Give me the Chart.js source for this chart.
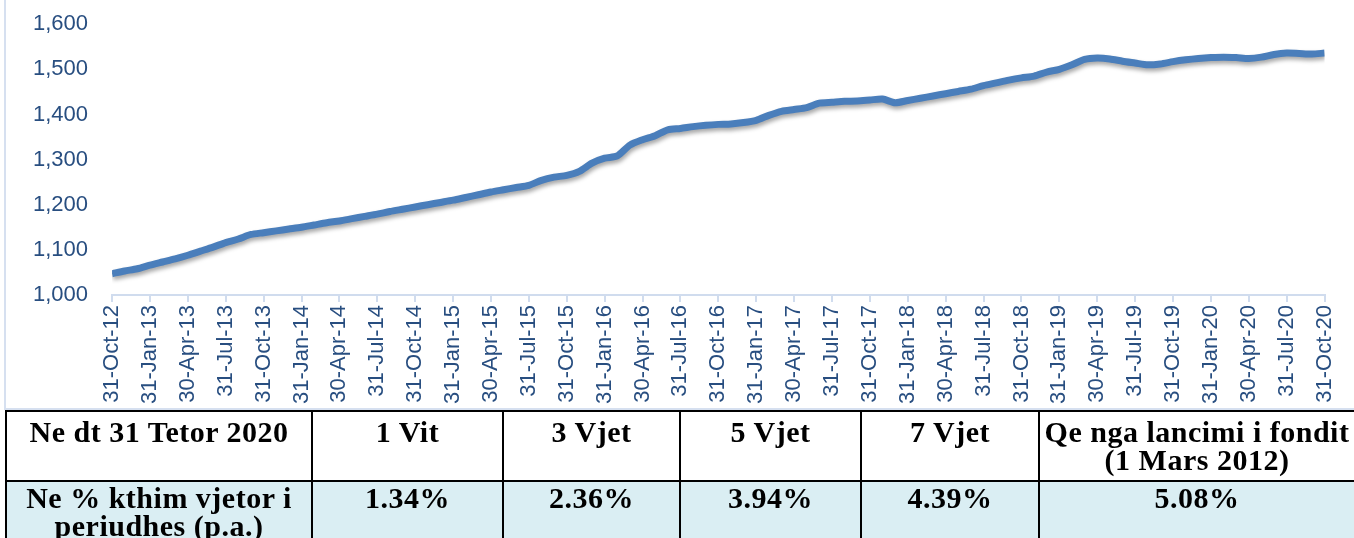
<!DOCTYPE html>
<html>
<head>
<meta charset="utf-8">
<script src="https://cdn.jsdelivr.net/npm/chart.js@4"></script>
<style>
  body { margin: 0; background: #fff; width: 1354px; height: 538px; overflow: hidden; position: relative; }
  #chartBox { position: absolute; left: 0; top: -5px; width: 1354px; height: 415px; }
  #frame { position: absolute; left: 4px; top: -2px; width: 1360px; height: 410px;
           border-left: 2px solid #d6e0f0; border-bottom: 2px solid #d6e0f0; pointer-events: none; }
  #perf { position: absolute; left: 5px; top: 410px; border-collapse: collapse; table-layout: fixed;
          font-family: 'Liberation Serif', 'Times New Roman', serif; font-weight: bold; font-size: 30px;
          letter-spacing: 0.5px; line-height: 28px; color: #000; }
  #perf td { border: 2px solid #000; text-align: center; vertical-align: top; padding: 6px 2px 0 2px; }
  #perf tr.head td { height: 62px; background: #fff; }
  #perf tr.vals td { height: 74px; background: #daeef3; padding-top: 2px; }
</style>
</head>
<body>
<div id="chartBox"><canvas id="navChart"></canvas></div>
<div id="frame"></div>
<table id="perf">
  <colgroup id="cols"></colgroup>
  <tr class="head" id="headRow"></tr>
  <tr class="vals" id="valRow"></tr>
</table>
<script>
// vlera mujore e kuotes (31-Oct-12 ... 31-Oct-20)
const navValues = [
  1047, 1053, 1058, 1066, 1073, 1080, 1088, 1097, 1106, 1116, 1124, 1134,
  1138, 1142, 1146, 1150, 1155, 1160, 1164, 1169, 1174, 1179, 1185, 1190,
  1195, 1200, 1205, 1210, 1216, 1222, 1228, 1233, 1238, 1243, 1254, 1261,
  1265, 1274, 1292, 1303, 1308, 1332, 1344, 1353, 1366, 1369, 1373, 1376,
  1378, 1379, 1382, 1387, 1398, 1407, 1411, 1415, 1425, 1427, 1429, 1430,
  1432, 1434, 1426, 1431, 1436, 1441, 1446, 1451, 1456, 1464, 1470, 1476,
  1481, 1485, 1494, 1500, 1510, 1522, 1525, 1523, 1518, 1514, 1510, 1512,
  1517, 1521, 1524, 1526, 1527, 1526, 1524, 1527, 1533, 1536, 1535, 1534,
  1536
];

const tickLabels = [
  '31-Oct-12', '31-Jan-13', '30-Apr-13', '31-Jul-13', '31-Oct-13', '31-Jan-14', '30-Apr-14',
  '31-Jul-14', '31-Oct-14', '31-Jan-15', '30-Apr-15', '31-Jul-15', '31-Oct-15', '31-Jan-16',
  '30-Apr-16', '31-Jul-16', '31-Oct-16', '31-Jan-17', '30-Apr-17', '31-Jul-17', '31-Oct-17',
  '31-Jan-18', '30-Apr-18', '31-Jul-18', '31-Oct-18', '31-Jan-19', '30-Apr-19', '31-Jul-19',
  '31-Oct-19', '31-Jan-20', '30-Apr-20', '31-Jul-20', '31-Oct-20'
];

const tableHeaders = ['Ne dt 31 Tetor 2020', '1 Vit', '3 Vjet', '5 Vjet', '7 Vjet', 'Qe nga lancimi i fondit<br>(1 Mars 2012)'];
const tableValues = ['Ne % kthim vjetor i periudhes (p.a.)', '1.34%', '2.36%', '3.94%', '4.39%', '5.08%'];
const colWidths = [306, 191, 177, 181, 178, 316];

// tabela
document.getElementById('cols').innerHTML = colWidths.map(w => '<col style="width:' + w + 'px">').join('');
document.getElementById('headRow').innerHTML = tableHeaders.map(t => '<td>' + t + '</td>').join('');
document.getElementById('valRow').innerHTML = tableValues.map(t => '<td>' + t + '</td>').join('');
document.getElementById('perf').style.width = colWidths.reduce((a, b) => a + b, 0) + 'px';

// hije poshte vijes
const lineShadow = {
  id: 'lineShadow',
  beforeDatasetDraw(chart) {
    const ctx = chart.ctx;
    ctx.save();
    ctx.shadowColor = 'rgba(0,0,0,0.35)';
    ctx.shadowBlur = 4;
    ctx.shadowOffsetX = 1;
    ctx.shadowOffsetY = 3;
  },
  afterDatasetDraw(chart) {
    chart.ctx.restore();
  }
};

const labelColor = '#284e80';
const axisColor = '#d0dcee';

new Chart(document.getElementById('navChart'), {
  type: 'line',
  data: {
    datasets: [{
      data: navValues.map((v, i) => ({ x: i, y: v })),
      borderColor: '#4a7ebb',
      borderWidth: 7,
      pointRadius: 0,
      tension: 0.25,
      fill: false
    }]
  },
  options: {
    responsive: true,
    maintainAspectRatio: false,
    animation: false,
    layout: { padding: { left: 17, right: 29, top: 6, bottom: 3 } },
    plugins: {
      legend: { display: false },
      tooltip: { enabled: false }
    },
    scales: {
      x: {
        type: 'linear',
        min: 0,
        max: 96,
        grid: { drawOnChartArea: false, drawTicks: true, tickLength: 7, color: axisColor, lineWidth: 2 },
        border: { color: axisColor, width: 2 },
        ticks: {
          stepSize: 3,
          autoSkip: false,
          maxRotation: 90,
          minRotation: 90,
          padding: 3,
          color: labelColor,
          font: { family: 'Liberation Sans', size: 22 },
          callback: v => tickLabels[v / 3]
        }
      },
      y: {
        min: 1000,
        max: 1600,
        grid: { display: false },
        border: { display: false },
        ticks: {
          stepSize: 100,
          padding: 16,
          color: labelColor,
          font: { family: 'Liberation Sans', size: 22 },
          callback: v => v.toLocaleString('en-US')
        }
      }
    }
  },
  plugins: [lineShadow]
});
</script>
</body>
</html>
